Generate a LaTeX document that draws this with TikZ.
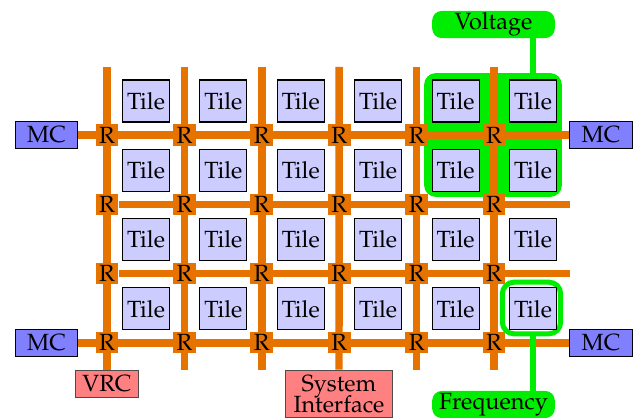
\documentclass[tikz,border=0pt]{standalone}
\usepackage[T1]{fontenc}
\usepackage{mathpazo}
\usepackage{xcolor}
\usepackage{tikz}
\usetikzlibrary{positioning, calc, backgrounds}

\definecolor{nocorange}{RGB}{230,115,0}
\definecolor{islandgreen}{RGB}{0,236,0}
\definecolor{tileblue}{RGB}{204,204,255}
\definecolor{mcblue}{RGB}{128,128,255}
\definecolor{ctrlred}{RGB}{255,128,128}

\pgfdeclarelayer{bottom}
\pgfsetlayers{bottom,background,main}

\begin{document}
\begin{tikzpicture}[
    x=0.018cm, y=-0.018cm,
    font=\large,
    tile/.style={rectangle, draw=black, fill=tileblue, semithick, minimum width=0.846cm, minimum height=0.756cm, inner sep=0pt},
    router/.style={rectangle, fill=nocorange, minimum width=0.41cm, minimum height=0.38cm, inner sep=0pt},
    mcbox/.style={rectangle, draw=black, fill=mcblue, semithick, minimum width=1.13cm, minimum height=0.5cm, inner sep=0pt},
    ctrlbox/.style={rectangle, draw=black!70, fill=ctrlred, semithick, minimum width=1.13cm, minimum height=0.5cm, inner sep=0pt, align=center},
    knob/.style={rectangle, rounded corners=5pt, fill=islandgreen, minimum width=2.21cm, minimum height=0.49cm, inner sep=0pt},
    link/.style={draw=nocorange, line width=3.8pt},
    wire/.style={draw=islandgreen, line width=2.6pt}
]
\useasboundingbox (0,0) rectangle (639,418);

% Voltage island behind the top right corner
\begin{pgfonlayer}{bottom}
\node[rectangle, fill=islandgreen, rounded corners=6pt, minimum width=2.48cm, minimum height=2.23cm] (vreg) at (493,135) {};
\end{pgfonlayer}

% Routers
\foreach \i in {1,...,6}
  \foreach \j in {1,...,4}
    \node[router] (r-\i-\j) at ({107+77.4*(\i-1)}, {135+69.3*(\j-1)}) {R};

% Memory controllers and interfaces
\node[mcbox] (mc-l1) at (46.5,135) {MC};
\node[mcbox] (mc-r1) at (601,135) {MC};
\node[mcbox] (mc-l2) at (46.5,343) {MC};
\node[mcbox] (mc-r2) at (601,343) {MC};
\node[ctrlbox] (vrc) at (107,384) {VRC};
\node[ctrlbox, minimum width=1.94cm, minimum height=0.86cm] (sysif) at (339,394) {System\\[-3pt]Interface};

% Free ends of the links
\foreach \i in {1,...,6}
  \coordinate (n-\i) at ({107+77.4*(\i-1)}, 67);
\foreach \i in {2,3,5,6}
  \coordinate (s-\i) at ({107+77.4*(\i-1)}, 370);
\coordinate (e-2) at (570,204.3);
\coordinate (e-3) at (570,273.6);

% Mesh links
\begin{pgfonlayer}{background}
\draw[link] (mc-l1) -- (mc-r1);
\draw[link] (r-1-2) -- (e-2);
\draw[link] (r-1-3) -- (e-3);
\draw[link] (mc-l2) -- (mc-r2);
\draw[link] (n-1) -- (vrc);
\draw[link] (n-4) -- (sysif);
\foreach \i in {2,3,5,6}
  \draw[link] (n-\i) -- (s-\i);
\end{pgfonlayer}

% Frequency island
\node[rectangle, draw=islandgreen, fill=white, line width=2.6pt, rounded corners=6pt, minimum width=1.05cm, minimum height=0.93cm] (freg) at (531.5,308) {};

% Tiles
\foreach \i in {1,...,6}
  \foreach \j in {1,...,4}
    \node[tile] (t-\i-\j) at ({146+77.4*(\i-1)}, {101+69.3*(\j-1)}) {Tile};

% Voltage and frequency control
\node[knob] (volt) at (493.5,24.5) {Voltage};
\node[knob] (freq) at (493.5,404.5) {Frequency};
\draw[wire] (t-6-1 |- volt.south) -- (t-6-1 |- vreg.north);
\draw[wire] (t-6-4 |- freq.north) -- (t-6-4 |- freg.south);

\end{tikzpicture}
\end{document}
